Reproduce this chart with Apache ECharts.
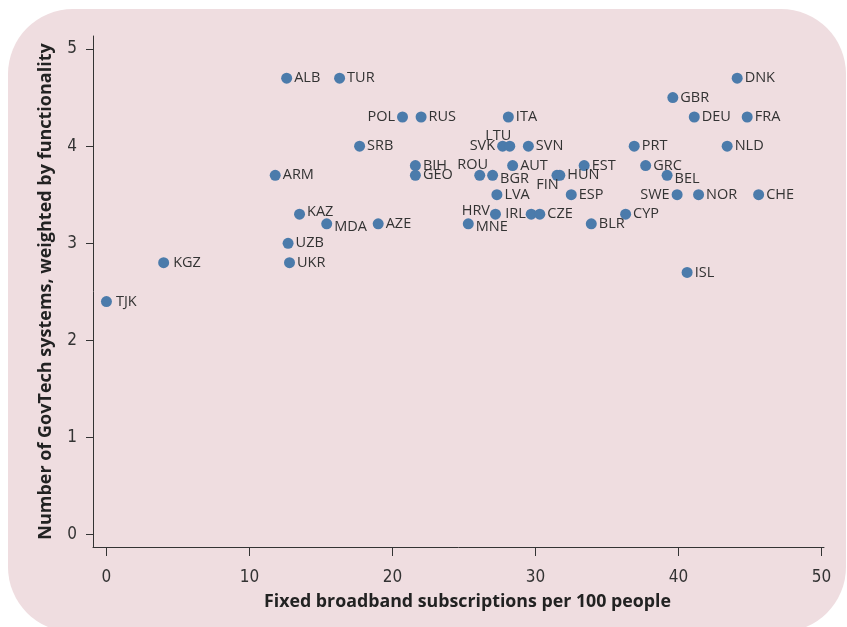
<!DOCTYPE html>
<html><head><meta charset="utf-8">
<script src="https://cdn.jsdelivr.net/npm/echarts@6/dist/echarts.min.js"></script>
<style>html,body{margin:0;padding:0;background:#fff}#c{width:847px;height:627px}</style>
</head><body><div id="c"></div>
<script>
// ---- data ----
var countries = ["TJK","KGZ","ARM","ALB","UZB","UKR","KAZ","MDA","TUR","SRB","AZE","POL","RUS","BIH","GEO","ROU","BGR","SVK","LTU","ITA","SVN","AUT","LVA","HRV","MNE","IRL","CZE","FIN","HUN","EST","ESP","BLR","CYP","PRT","GRC","BEL","SWE","NOR","CHE","ISL","GBR","DEU","NLD","DNK","FRA"];
var broadband = [0.0,4.0,11.8,12.6,12.7,12.8,13.5,15.4,16.3,17.7,19.0,20.7,22.0,21.6,21.6,26.1,27.0,27.7,28.2,28.1,29.5,28.4,27.3,27.2,25.3,29.7,30.3,31.5,31.7,33.4,32.5,33.9,36.3,36.9,37.7,39.2,39.9,41.4,45.6,40.6,39.6,41.1,43.4,44.1,44.8];
var govtech = [2.4,2.8,3.7,4.7,3.0,2.8,3.3,3.2,4.7,4.0,3.2,4.3,4.3,3.8,3.7,3.7,3.7,4.0,4.0,4.3,4.0,3.8,3.5,3.3,3.2,3.3,3.3,3.7,3.7,3.8,3.5,3.2,3.3,4.0,3.8,3.7,3.5,3.5,3.5,2.7,4.5,4.3,4.0,4.7,4.3];
var xTicks = [0,10,20,30,40,50];
var yTicks = [0,1,2,3,4,5];
var xTitle = "Fixed broadband subscriptions per 100 people";
var yTitle = "Number of GovTech systems, weighted by functionality";

// ---- label placement (style only) ----
var placement = {
  POL:{position:'left'}, SVK:{position:'left'}, SWE:{position:'left'}, IRL:{position:'left',distance:0},
  HRV:{position:'left',distance:0,dy:-3},
  LTU:{position:'top',distance:1,dx:-11.5,dy:3.5},
  ROU:{position:'top',distance:1,dx:-7,dy:3.5},
  FIN:{position:'bottom',distance:1,dx:-9.5,dy:-4},
  BGR:{dy:4}, MNE:{dy:3.5}, MDA:{dy:3.5}, BEL:{dy:4},
  KAZ:{dy:-2}, KGZ:{distance:4}, TJK:{distance:4}
};

var pts = countries.map(function(c,i){
  var item = {value:[broadband[i], govtech[i]], name:c};
  var p = placement[c];
  if (p) {
    item.label = {};
    if (p.position) item.label.position = p.position;
    if (p.distance !== undefined) item.label.distance = p.distance;
  }
  return item;
});

var chart = echarts.init(document.getElementById('c'), null, {renderer:'canvas'});
var tickFont = '"Liberation Sans Narrow","DejaVu Sans Condensed",sans-serif';
var titleFont = '"Open Sans",Lato,sans-serif';
chart.setOption({
  backgroundColor:'#ffffff',
  animation:false,
  graphic:[{type:'rect', z:-10, shape:{x:8,y:9,width:838,height:623,r:65}, style:{fill:'#efdde0'}}],
  grid:{left:93, right:23, top:36, bottom:80, containLabel:false},
  xAxis:{
    type:'value', min:-0.94, max:50.17,
    axisLine:{show:true, onZero:false, lineStyle:{color:'#333', width:1}},
    axisTick:{show:true, length:9, customValues:xTicks, lineStyle:{color:'#333'}},
    axisLabel:{customValues:xTicks, margin:22, color:'#333', fontFamily:tickFont, fontSize:17},
    splitLine:{show:false},
    name:xTitle, nameLocation:'middle', nameGap:46,
    nameTextStyle:{fontFamily:titleFont, fontWeight:'bold', fontSize:17.8, color:'#222', padding:[0,0,0,18]}
  },
  yAxis:{
    type:'value', min:-0.127, max:5.134,
    axisLine:{show:true, onZero:false, lineStyle:{color:'#333', width:1}},
    axisTick:{show:true, length:7, customValues:yTicks, lineStyle:{color:'#333'}},
    axisLabel:{customValues:yTicks, margin:16, color:'#333', fontFamily:tickFont, fontSize:17},
    splitLine:{show:false},
    name:yTitle, nameLocation:'middle', nameGap:38, nameRotate:90,
    nameTextStyle:{fontFamily:titleFont, fontWeight:'bold', fontSize:18, color:'#222'}
  },
  series:[{
    type:'scatter', symbol:'circle', symbolSize:11,
    itemStyle:{color:'#4b7bab', opacity:1},
    label:{show:true, position:'right', distance:2, formatter:'{b}', color:'#333',
      fontFamily:'"Open Sans",Lato,sans-serif', fontSize:14.5},
    labelLayout:function(params){
      var p = placement[countries[params.dataIndex]];
      return {hideOverlap:false, dx:(p && p.dx) || 0, dy:(p && p.dy) || 0};
    },
    data:pts
  }]
});
</script></body></html>
